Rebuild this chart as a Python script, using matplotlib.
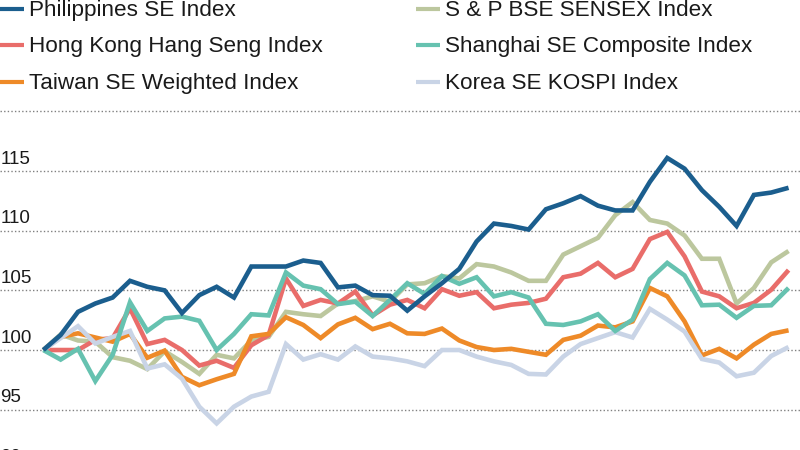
import matplotlib
matplotlib.use("Agg")
import matplotlib.pyplot as plt
from matplotlib.lines import Line2D

plt.rcParams['font.family'] = ['Liberation Sans Narrow', 'Liberation Sans', 'DejaVu Sans']

philippines = [100, 101.26, 103.2, 103.9, 104.4, 105.8, 105.3, 105.0, 103.1, 104.6, 105.3, 104.4,
               107.0, 107.0, 107.0, 107.5, 107.3, 105.25, 105.4, 104.6, 104.55, 103.3, 104.5, 105.6,
               106.8, 109.1, 110.6, 110.4, 110.1, 111.8, 112.3, 112.9, 112.1, 111.7, 111.7, 114.1,
               116.1, 115.2, 113.4, 112.0, 110.4, 113.0, 113.2, 113.6]
sensex = [100, 101.3, 100.8, 100.7, 99.4, 99.1, 98.4, 99.9, 99.0, 98.0, 99.6, 99.3,
          100.8, 101.1, 103.2, 103.0, 102.85, 103.9, 104.1, 104.5, 104.05, 105.5, 105.6, 106.2,
          106.0, 107.2, 107.0, 106.5, 105.8, 105.8, 108.0, 108.7, 109.4, 111.3, 112.4, 110.9,
          110.6, 109.6, 107.65, 107.65, 103.9, 105.2, 107.35, 108.3]
hong_kong = [100, 100, 100, 100.85, 101, 103.5, 100.5, 100.85, 100, 98.7, 99.1, 98.5,
             100.4, 101.25, 106, 103.7, 104.2, 103.9, 104.9, 102.9, 103.8, 104.2, 103.5, 105.1,
             104.55, 104.85, 103.5, 103.8, 103.95, 104.3, 106.1, 106.4, 107.3, 106.1, 106.8, 109.3,
             109.9, 107.85, 104.9, 104.5, 103.5, 103.95, 105.05, 106.7]
shanghai = [100, 99.2, 100.1, 97.4, 99.6, 104, 101.6, 102.65, 102.8, 102.45, 100, 101.35,
            103, 102.9, 106.5, 105.4, 105.1, 103.85, 104.05, 102.85, 104.2, 105.6, 104.7, 106.2,
            105.55, 106.1, 104.5, 104.85, 104.4, 102.2, 102.1, 102.4, 103, 101.6, 102.55, 105.95,
            107.3, 106.25, 103.75, 103.8, 102.7, 103.7, 103.75, 105.2]
taiwan = [100, 101.1, 101.4, 101.05, 100.7, 101.35, 99.35, 99.95, 97.75, 97.05, 97.55, 98,
          101.15, 101.35, 102.75, 102.1, 101, 102.15, 102.7, 101.75, 102.2, 101.4, 101.35, 101.8,
          100.8, 100.25, 100, 100.1, 99.85, 99.6, 100.85, 101.2, 102.05, 101.9, 102.4, 105.2,
          104.5, 102.4, 99.55, 100.1, 99.3, 100.45, 101.35, 101.65]
korea = [100, 101, 102, 100.55, 101.1, 101.6, 98.45, 98.8, 97.6, 95.25, 93.85, 95.25,
         96.1, 96.5, 100.5, 99.2, 99.65, 99.2, 100.3, 99.45, 99.3, 99.05, 98.65, 100,
         100, 99.45, 99.05, 98.75, 98, 97.95, 99.45, 100.5, 101, 101.5, 101.05, 103.45,
         102.55, 101.55, 99.25, 98.95, 97.8, 98.1, 99.5, 100.25]

y_ticks = [90, 95, 100, 105, 110, 115]
grid_only = [120]

BLUE = '#1b5e8e'
OLIVE = '#bcc79e'
RED = '#e96d6a'
TEAL = '#66c2b0'
ORANGE = '#ee8a28'
PALE = '#c9d4e6'

fig = plt.figure(figsize=(8, 4.5), dpi=100)
ax = fig.add_axes([0, 0, 1, 1])
ax.axis('off')
ax.set_xlim(-2.5, 43.66)
ax.set_ylim(91.62, 129.34)

for v in y_ticks + grid_only:
    ax.axhline(v, color='#808080', lw=1, ls=(0, (1, 1.6)), zorder=1)
for v in y_ticks:
    ax.annotate(str(v), xy=(0, v), xycoords=ax.get_yaxis_transform(), xytext=(0.3, 5.3),
                textcoords='offset points', fontsize=13.5, color='#1a1a1a', ha='left', va='baseline',
                annotation_clip=False)

x = list(range(len(philippines)))
plot_order = [(sensex, OLIVE), (hong_kong, RED), (taiwan, ORANGE), (korea, PALE), (shanghai, TEAL), (philippines, BLUE)]
for vals, col in plot_order:
    ax.plot(x, vals, color=col, lw=3.3, solid_joinstyle='miter', solid_capstyle='butt', zorder=3)

# legend, placed by hand in pixels
legend_rows = [
    ('Philippines SE Index', BLUE, 0, 9), ('S & P BSE SENSEX Index', OLIVE, 416, 9),
    ('Hong Kong Hang Seng Index', RED, 0, 45), ('Shanghai SE Composite Index', TEAL, 416, 45),
    ('Taiwan SE Weighted Index', ORANGE, 0, 82), ('Korea SE KOSPI Index', PALE, 416, 82),
]
for label, col, px, py in legend_rows:
    fig.add_artist(Line2D([px / 800, (px + 24) / 800], [1 - py / 450] * 2, color=col, lw=3, solid_capstyle='butt'))
    fig.text((px + 29) / 800, 1 - (py + 7) / 450, label, fontsize=16.2, color='#1a1a1a', ha='left', va='baseline')

fig.savefig('out.png', dpi=100)
